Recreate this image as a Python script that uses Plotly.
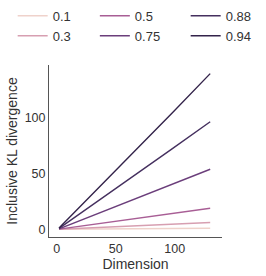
import plotly.graph_objects as go

dimension = [2, 34, 66, 98, 130]
rho_labels = ["0.1", "0.3", "0.5", "0.75", "0.88", "0.94"]
kl_values = {
    "0.1": [0.0, 0.2, 0.4, 0.7, 0.9],
    "0.3": [0.05, 1.5, 3.0, 4.5, 6.0],
    "0.5": [0.15, 4.8, 9.5, 14.2, 18.8],
    "0.75": [0.4, 13.6, 26.8, 40.1, 53.6],
    "0.88": [0.75, 24.3, 48.0, 72.0, 96.0],
    "0.94": [1.1, 35.3, 69.8, 104.0, 139.0],
}
colors = ["#efd2cb", "#d79fb1", "#a85e95", "#6b3e7b", "#45305f", "#33234a"]
legend_column = {"0.1": "legend", "0.3": "legend", "0.5": "legend2",
                 "0.75": "legend2", "0.88": "legend3", "0.94": "legend3"}

fig = go.Figure()
for lab, col in zip(rho_labels, colors):
    fig.add_trace(go.Scatter(
        x=dimension, y=kl_values[lab], mode="lines", name=lab,
        line=dict(color=col, width=1.4), legend=legend_column[lab],
    ))

legend_font = dict(family="Liberation Sans, Arial, sans-serif", size=13, color="#333333")
def legend_box(xpos):
    return dict(
        orientation="v", x=xpos, xanchor="left", y=1.373, yanchor="top",
        xref="paper", yref="paper", itemwidth=30, tracegroupgap=0,
        font=legend_font, bgcolor="rgba(0,0,0,0)",
    )

axis_font = dict(family="Liberation Sans, Arial, sans-serif", size=12.5, color="#333333")
fig.update_layout(
    width=266, height=276,
    margin=dict(l=49, r=44, t=65, b=39, autoexpand=False),
    paper_bgcolor="white", plot_bgcolor="white",
    font=axis_font,
    legend=legend_box(-0.21),
    legend2=legend_box(0.265),
    legend3=legend_box(0.79),
    xaxis=dict(
        range=[-6.5, 140], showgrid=False, zeroline=False,
        showline=True, linecolor="#555555", linewidth=1,
        tickvals=[0, 50, 100], ticks="",
        title=dict(text="Dimension", font=dict(size=14), standoff=1),
        tickfont=dict(size=12.5),
    ),
    yaxis=dict(
        range=[-6.9, 146.7], showgrid=False, zeroline=False,
        showline=True, linecolor="#555555", linewidth=1,
        tickvals=[0, 50, 100], ticks="",
        title=dict(text="Inclusive KL divergence", font=dict(size=14), standoff=3),
        tickfont=dict(size=12.5),
    ),
)
fig.write_html("out.html", config={"displayModeBar": False},
               post_script="document.body.style.margin='0px';")
